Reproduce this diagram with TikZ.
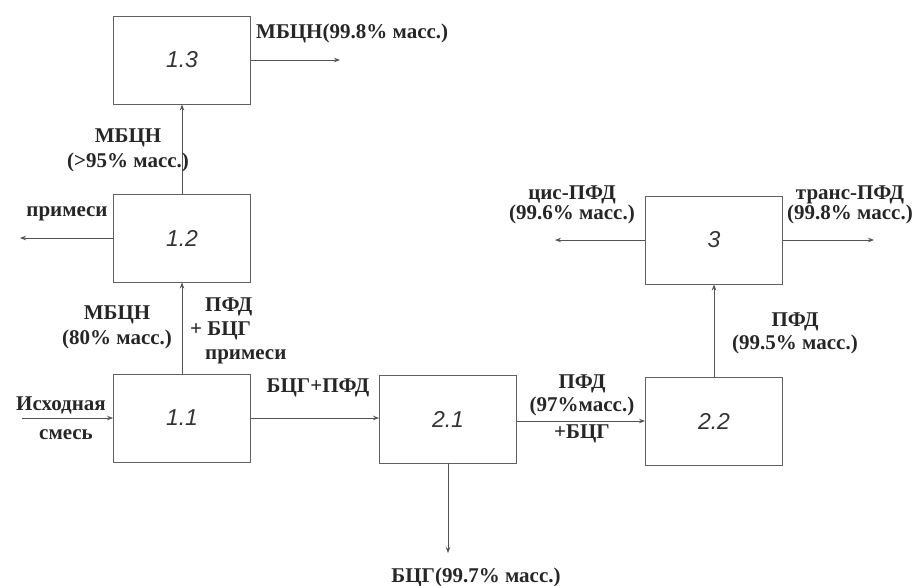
\documentclass[tikz,border=0pt]{standalone}
\usepackage{fontspec}
\setmainfont{Liberation Serif}
\newfontfamily\numfont{Liberation Sans}
\usetikzlibrary{arrows.meta}
\begin{document}
\begin{tikzpicture}[x=1pt,y=-1pt,
 box/.style={draw=gray!75!black, line width=0.9pt, minimum width=137pt, minimum height=88pt, inner sep=0pt,
   font=\numfont\itshape\fontsize{23}{23}\selectfont, text=black!80},
 flow/.style={draw=gray!65!black, line width=0.9pt, -{Stealth[length=6pt,width=4.5pt]}},
 lbl/.style={font=\bfseries\fontsize{21}{25}\selectfont, inner sep=0pt, text=black!85, align=center}]
\useasboundingbox (0,0) rectangle (916,586);
% boxes
\node[box] (b13) at (182,60) {1.3};
\node[box] (b12) at (182,238) {1.2};
\node[box] (b11) at (182,418) {1.1};
\node[box] (b21) at (448,419) {2.1};
\node[box] (b22) at (714,421) {2.2};
\node[box] (b3)  at (714,240) {3};
% free ends
\coordinate (o13) at (340,60);
\coordinate (o12) at (20,238);
\coordinate (in11) at (22,418);
\coordinate (o21) at (448,553);
\coordinate (o3l) at (555,240);
\coordinate (o3r) at (874,240);
% connectors
\draw[flow] (b13.east) -- (o13);
\draw[flow] (b12.north) -- (b13.south);
\draw[flow] (b12.west) -- (o12);
\draw[flow] (b11.north) -- (b12.south);
\draw[flow] (in11) -- (b11.west);
\draw[flow] (b11.east) -- (b11.east -| b21.west);
\draw[flow] (b21.south) -- (o21);
\draw[flow] (b21.east |- b22.west) -- (b22.west);
\draw[flow] (b22.north) -- (b3.south);
\draw[flow] (b3.west) -- (o3l);
\draw[flow] (b3.east) -- (o3r);
% labels
\node[lbl, anchor=west] (t13) at (256,33) {МБЦН(99.8\% масс.)};
\node[lbl] (t1213) at (128,150) {МБЦН\\(>95\% масс.)};
\node[lbl] (t12) at (67,214) {примеси};
\node[lbl] (t1112l) at (117,327) {МБЦН\\(80\% масс.)};
\node[lbl, anchor=west, align=left, font=\bfseries\fontsize{21}{24}\selectfont] (t1112r) at (190,331) {\hspace{15pt}ПФД\\+ БЦГ\\\hspace{15pt}примеси};
\node[lbl] (tin1) at (61,405) {Исходная};
\node[lbl] (tin2) at (66,435) {смесь};
\node[lbl] (t1121) at (318,388) {БЦГ+ПФД};
\node[lbl] (t21) at (476,577) {БЦГ(99.7\% масс.)};
\node[lbl, font=\bfseries\fontsize{21}{23}\selectfont] (t2122) at (582,409) {ПФД\\(97\%масс.)\\[4pt]+БЦГ};
\node[lbl, font=\bfseries\fontsize{21}{23}\selectfont] (t223) at (795,333) {ПФД\\(99.5\% масс.)};
\node[lbl, font=\bfseries\fontsize{21}{20.5}\selectfont] (t3l) at (572,205) {цис-ПФД\\(99.6\% масс.)};
\node[lbl, font=\bfseries\fontsize{21}{20.5}\selectfont] (t3r) at (850,205) {транс-ПФД\\(99.8\% масс.)};
\end{tikzpicture}
\end{document}
